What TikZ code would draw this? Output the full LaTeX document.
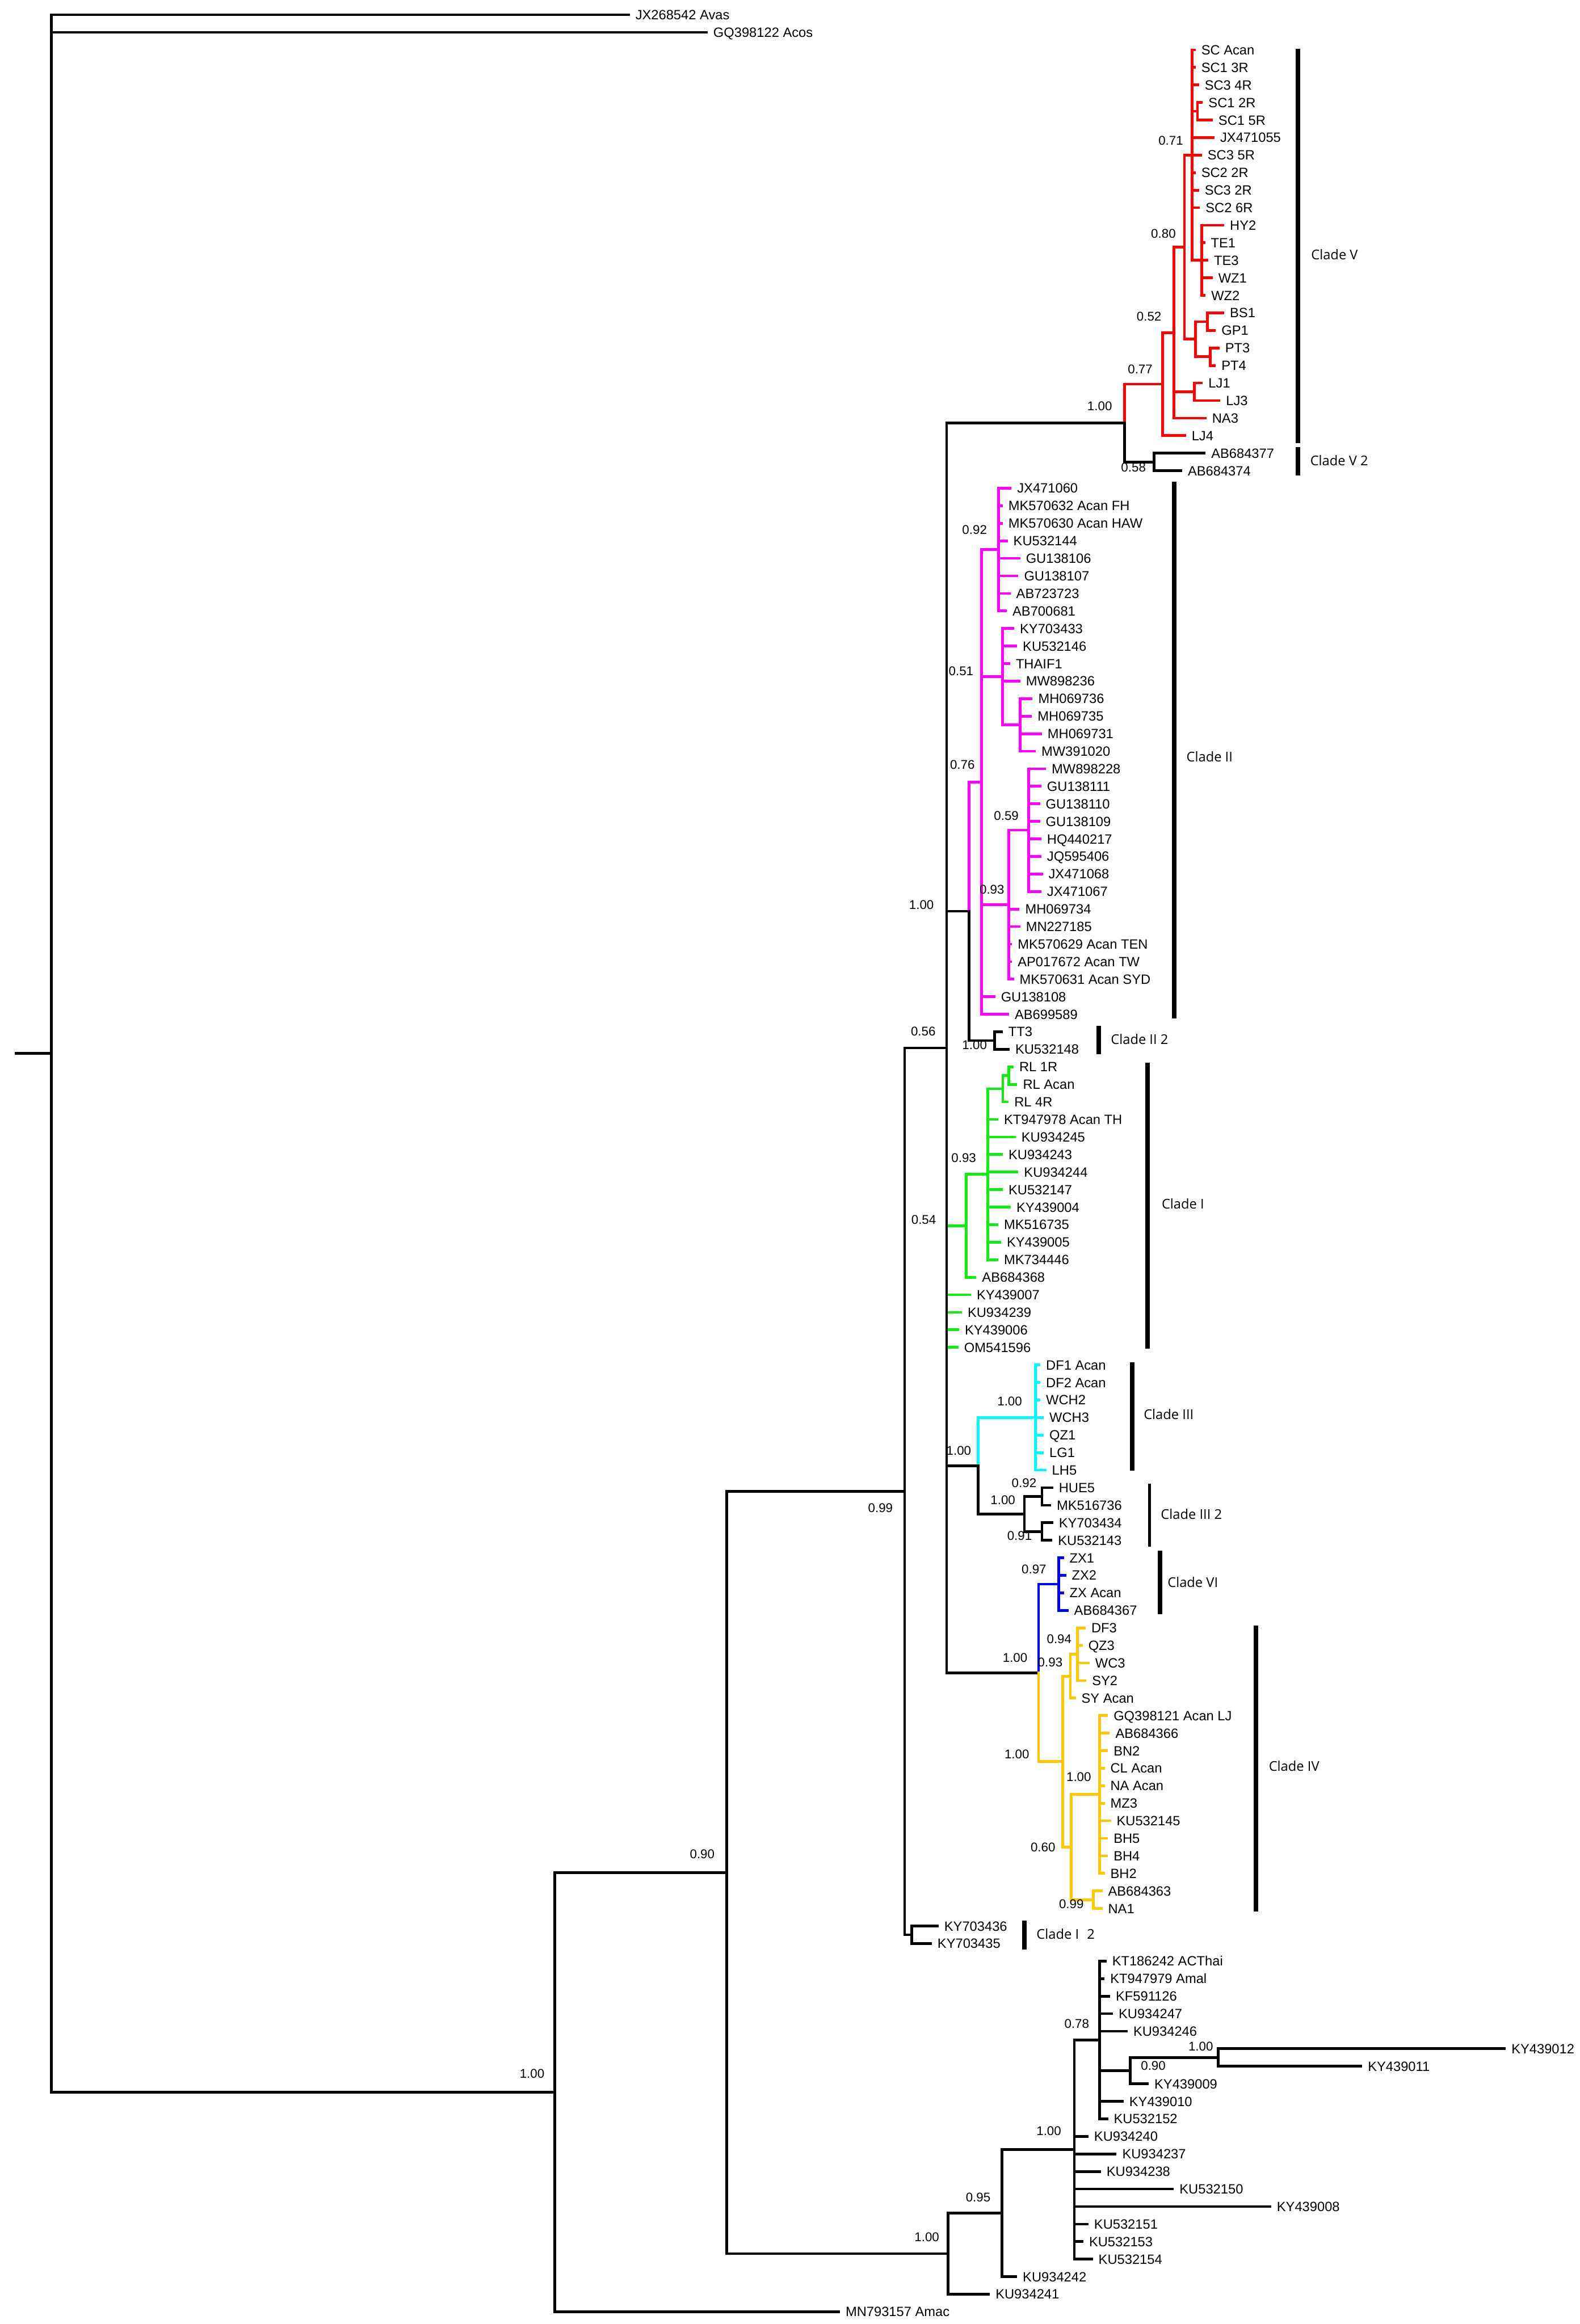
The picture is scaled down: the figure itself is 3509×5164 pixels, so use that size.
\documentclass[tikz,border=0pt]{standalone}
\usepackage{fontspec}
\setmainfont{Liberation Sans}
\newfontfamily\cladefont{Open Sans}
\definecolor{cR}{RGB}{255,0,0}
\definecolor{cM}{RGB}{255,0,255}
\definecolor{cG}{RGB}{20,235,20}
\definecolor{cC}{RGB}{0,250,250}
\definecolor{cB}{RGB}{0,0,235}
\definecolor{cY}{RGB}{255,200,0}
\newcommand{\ky}[1]{32.95+38.96*(#1)}
\newcommand{\tleaf}[4]{\coordinate (#1) at (#2,{\ky{#3}}); \node[tx] (n#1) at (#1) {#4};}
\newcommand{\inode}[3]{\coordinate (#1) at (#2,{\ky{#3}});}
\newcommand{\kids}[3]{\foreach \ch in {#3} {\draw[hl,#1] (#2 |- \ch) -- (\ch);}}
\newcommand{\vbar}[4]{\draw[vl,#1] (#2 |- #3) -- (#2 |- #4);}
\tikzset{
  hl/.style={line width=1.7pt, line cap=butt},
  vl/.style={line width=1.7pt, line cap=rect},
  tx/.style={anchor=base west, inner sep=0pt, font=\fontsize{8.5}{10}\selectfont, xshift=0.12cm, yshift=-0.107cm},
  sv/.style={anchor=base east, inner sep=0pt, font=\fontsize{8}{9.6}\selectfont, yshift=-0.1cm},
  cl/.style={anchor=base west, inner sep=0pt, font=\cladefont\fontsize{8.5}{10}\selectfont, yshift=-0.108cm},
  cbar/.style={line width=2.85pt},
  cbarthin/.style={line width=1.9pt}
}
\begin{document}
\begin{tikzpicture}[x=0.01cm, y=-0.01cm]
\useasboundingbox (0,0) rectangle (3509,5164);
% ---------- leaves ----------
\tleaf{l0}{1399}{0}{JX268542 Avas}
\tleaf{l1}{1572}{1}{GQ398122 Acos}
\tleaf{l2}{2656}{2}{SC Acan}
\tleaf{l3}{2656}{3}{SC1 3R}
\tleaf{l4}{2663.5}{4}{SC3 4R}
\tleaf{l5}{2672}{5}{SC1 2R}
\tleaf{l6}{2694}{6}{SC1 5R}
\tleaf{l7}{2698}{7}{JX471055}
\tleaf{l8}{2670}{8}{SC3 5R}
\tleaf{l9}{2656}{9}{SC2 2R}
\tleaf{l10}{2663.5}{10}{SC3 2R}
\tleaf{l11}{2665.6}{11}{SC2 6R}
\tleaf{l12}{2719.5}{12}{HY2}
\tleaf{l13}{2677.2}{13}{TE1}
\tleaf{l14}{2684.2}{14}{TE3}
\tleaf{l15}{2693.8}{15}{WZ1}
\tleaf{l16}{2678}{16}{WZ2}
\tleaf{l17}{2719.5}{17}{BS1}
\tleaf{l18}{2700.8}{18}{GP1}
\tleaf{l19}{2709}{19}{PT3}
\tleaf{l20}{2700.8}{20}{PT4}
\tleaf{l21}{2672}{21}{LJ1}
\tleaf{l22}{2711}{22}{LJ3}
\tleaf{l23}{2680}{23}{NA3}
\tleaf{l24}{2634.5}{24}{LJ4}
\tleaf{l25}{2678}{25}{AB684377}
\tleaf{l26}{2626}{26}{AB684374}
\tleaf{l27}{2247}{27}{JX471060}
\tleaf{l28}{2227.5}{28}{MK570632 Acan FH}
\tleaf{l29}{2227.5}{29}{MK570630 Acan HAW}
\tleaf{l30}{2238.6}{30}{KU532144}
\tleaf{l31}{2266.4}{31}{GU138106}
\tleaf{l32}{2262.3}{32}{GU138107}
\tleaf{l33}{2244.9}{33}{AB723723}
\tleaf{l34}{2236.6}{34}{AB700681}
\tleaf{l35}{2253}{35}{KY703433}
\tleaf{l36}{2259.4}{36}{KU532146}
\tleaf{l37}{2244}{37}{THAIF1}
\tleaf{l38}{2266.4}{38}{MW898236}
\tleaf{l39}{2293.8}{39}{MH069736}
\tleaf{l40}{2292.5}{40}{MH069735}
\tleaf{l41}{2314.5}{41}{MH069731}
\tleaf{l42}{2300.8}{42}{MW391020}
\tleaf{l43}{2323.6}{43}{MW898228}
\tleaf{l44}{2313.3}{44}{GU138111}
\tleaf{l45}{2310.4}{45}{GU138110}
\tleaf{l46}{2310.4}{46}{GU138109}
\tleaf{l47}{2313.3}{47}{HQ440217}
\tleaf{l48}{2313.3}{48}{JQ595406}
\tleaf{l49}{2316.6}{49}{JX471068}
\tleaf{l50}{2313.3}{50}{JX471067}
\tleaf{l51}{2264.8}{51}{MH069734}
\tleaf{l52}{2266.4}{52}{MN227185}
\tleaf{l53}{2248.2}{53}{MK570629 Acan TEN}
\tleaf{l54}{2248.2}{54}{AP017672 Acan TW}
\tleaf{l55}{2252.3}{55}{MK570631 Acan SYD}
\tleaf{l56}{2210.9}{56}{GU138108}
\tleaf{l57}{2241.5}{57}{AB699589}
\tleaf{l58}{2227.5}{58}{TT3}
\tleaf{l59}{2242.8}{59}{KU532148}
\tleaf{l60}{2251.6}{60}{RL 1R}
\tleaf{l61}{2259.8}{61}{RL Acan}
\tleaf{l62}{2240.6}{62}{RL 4R}
\tleaf{l63}{2217.7}{63}{KT947978 Acan TH}
\tleaf{l64}{2256.4}{64}{KU934245}
\tleaf{l65}{2227.7}{65}{KU934243}
\tleaf{l66}{2262.2}{66}{KU934244}
\tleaf{l67}{2227.7}{67}{KU532147}
\tleaf{l68}{2245.4}{68}{KY439004}
\tleaf{l69}{2217.7}{69}{MK516735}
\tleaf{l70}{2223.9}{70}{KY439005}
\tleaf{l71}{2217.7}{71}{MK734446}
\tleaf{l72}{2168.9}{72}{AB684368}
\tleaf{l73}{2157}{73}{KY439007}
\tleaf{l74}{2136.9}{74}{KU934239}
\tleaf{l75}{2130.6}{75}{KY439006}
\tleaf{l76}{2129.2}{76}{OM541596}
\tleaf{l77}{2311}{77}{DF1 Acan}
\tleaf{l78}{2311}{78}{DF2 Acan}
\tleaf{l79}{2311}{79}{WCH2}
\tleaf{l80}{2318.6}{80}{WCH3}
\tleaf{l81}{2318.6}{81}{QZ1}
\tleaf{l82}{2318.6}{82}{LG1}
\tleaf{l83}{2324.3}{83}{LH5}
\tleaf{l84}{2339.6}{84}{HUE5}
\tleaf{l85}{2334.9}{85}{MK516736}
\tleaf{l86}{2339.6}{86}{KY703434}
\tleaf{l87}{2337.7}{87}{KU532143}
\tleaf{l88}{2363.3}{88}{ZX1}
\tleaf{l89}{2368.4}{89}{ZX2}
\tleaf{l90}{2363.3}{90}{ZX Acan}
\tleaf{l91}{2373.5}{91}{AB684367}
\tleaf{l92}{2411.7}{92}{DF3}
\tleaf{l93}{2405.1}{93}{QZ3}
\tleaf{l94}{2420.4}{94}{WC3}
\tleaf{l95}{2413.3}{95}{SY2}
\tleaf{l96}{2389.8}{96}{SY Acan}
\tleaf{l97}{2461.2}{97}{GQ398121 Acan LJ}
\tleaf{l98}{2465.3}{98}{AB684366}
\tleaf{l99}{2461.2}{99}{BN2}
\tleaf{l100}{2454}{100}{CL Acan}
\tleaf{l101}{2454}{101}{NA Acan}
\tleaf{l102}{2454}{102}{MZ3}
\tleaf{l103}{2467.9}{103}{KU532145}
\tleaf{l104}{2461.2}{104}{BH5}
\tleaf{l105}{2461.2}{105}{BH4}
\tleaf{l106}{2454}{106}{BH2}
\tleaf{l107}{2449}{107}{AB684363}
\tleaf{l108}{2449}{108}{NA1}
\tleaf{l109}{2085}{109}{KY703436}
\tleaf{l110}{2070}{110}{KY703435}
\tleaf{l111}{2458}{111}{KT186242 ACThai}
\tleaf{l112}{2453.6}{112}{KT947979 Amal}
\tleaf{l113}{2466}{113}{KF591126}
\tleaf{l114}{2472.3}{114}{KU934247}
\tleaf{l115}{2505}{115}{KU934246}
\tleaf{l116}{3345}{116}{KY439012}
\tleaf{l117}{3026}{117}{KY439011}
\tleaf{l118}{2551.8}{118}{KY439009}
\tleaf{l119}{2496}{119}{KY439010}
\tleaf{l120}{2461.6}{120}{KU532152}
\tleaf{l121}{2417.9}{121}{KU934240}
\tleaf{l122}{2480.4}{122}{KU934237}
\tleaf{l123}{2445.5}{123}{KU934238}
\tleaf{l124}{2607.6}{124}{KU532150}
\tleaf{l125}{2823.8}{125}{KY439008}
\tleaf{l126}{2417.9}{126}{KU532151}
\tleaf{l127}{2406.7}{127}{KU532153}
\tleaf{l128}{2427.7}{128}{KU532154}
\tleaf{l129}{2259.4}{129}{KU934242}
\tleaf{l130}{2199}{130}{KU934241}
\tleaf{l131}{1865.8}{131}{MN793157 Amac}
% ---------- internal nodes ----------
\inode{root}{114}{59.2355}
\coordinate (rootL) at (33,{\ky{59.2355}});
\inode{T}{1232.8}{118.47}
\inode{O}{1614}{105.95}
\inode{N}{2009.7}{84.21}
\inode{I2}{2025}{109.5}
\inode{M}{2103}{58.92}
\inode{W}{2497.7}{23.28}
\inode{Z}{2582.7}{21.0625}
\inode{Y}{2607.5}{18.125}
\inode{X}{2631}{13.25}
\inode{A1}{2648}{8}
\inode{SC1}{2660}{5.5}
\inode{HY}{2669.7}{14}
\inode{BP}{2656}{18.5}
\inode{BS}{2682}{17.5}
\inode{PT}{2688.4}{19.5}
\inode{LJ}{2653}{21.5}
\inode{V2}{2564}{25.5}
\inode{Q}{2152.8}{51.125}
\inode{P}{2180}{43.75}
\inode{A}{2218.7}{30.5}
\inode{B}{2227.5}{37.75}
\inode{MH}{2266.5}{40.5}
\inode{C}{2240.7}{50.75}
\inode{C1}{2285.5}{46.5}
\inode{II2}{2209.6}{58.5}
\inode{I0}{2146.4}{69.0625}
\inode{Iin}{2194.3}{66.125}
\inode{RL}{2227.7}{61.25}
\inode{RLa}{2240.6}{60.5}
\inode{R}{2172.7}{82.75}
\inode{III}{2300.4}{80}
\inode{IIIb}{2275.6}{85.5}
\inode{H1}{2314.8}{84.5}
\inode{H2}{2314.8}{86.5}
\inode{S}{2307}{94.5625}
\inode{VI}{2352}{89.5}
\inode{IV}{2360.7}{99.625}
\inode{IVa}{2377.6}{94.75}
\inode{DFg}{2393.9}{93.5}
\inode{IVb}{2379.6}{104.5}
\inode{GQg}{2442.3}{101.5}
\inode{ABNA}{2428.6}{107.5}
\inode{U}{2105.8}{127.6875}
\inode{V}{2225.5}{125.375}
\inode{X1}{2386.6}{121.75}
\inode{X2}{2442.4}{115.5}
\inode{X3}{2510.7}{117.25}
\inode{X4}{2705.8}{116.5}
% ---------- horizontal branches ----------
\draw[hl] (rootL) -- (root);
\kids{black}{root}{l0,l1,T}
\kids{black}{T}{O,l131}
\kids{black}{O}{N,U}
\kids{black}{N}{M,I2}
\kids{black}{I2}{l109,l110}
\kids{black}{M}{W,Q,R,S}
\kids{cG}{M}{I0,l73,l74,l75,l76}
% clade V
\kids{cR}{W}{Z}
\kids{black}{W}{V2}
\kids{black}{V2}{l25,l26}
\kids{cR}{Z}{Y,l24}
\kids{cR}{Y}{X,LJ,l23}
\kids{cR}{X}{A1,BP}
\kids{cR}{A1}{l2,l3,l4,SC1,l7,l8,l9,l10,l11,HY}
\kids{cR}{SC1}{l5,l6}
\kids{cR}{HY}{l12,l13,l14,l15,l16}
\kids{cR}{BP}{BS,PT}
\kids{cR}{BS}{l17,l18}
\kids{cR}{PT}{l19,l20}
\kids{cR}{LJ}{l21,l22}
% clade II
\kids{cM}{Q}{P}
\kids{black}{Q}{II2}
\kids{black}{II2}{l58,l59}
\kids{cM}{P}{A,B,C,l56,l57}
\kids{cM}{A}{l27,l28,l29,l30,l31,l32,l33,l34}
\kids{cM}{B}{l35,l36,l37,l38,MH}
\kids{cM}{MH}{l39,l40,l41,l42}
\kids{cM}{C}{C1,l51,l52,l53,l54,l55}
\kids{cM}{C1}{l43,l44,l45,l46,l47,l48,l49,l50}
% clade I
\kids{cG}{I0}{Iin,l72}
\kids{cG}{Iin}{RL,l63,l64,l65,l66,l67,l68,l69,l70,l71}
\kids{cG}{RL}{RLa,l62}
\kids{cG}{RLa}{l60,l61}
% clade III
\kids{cC}{R}{III}
\kids{black}{R}{IIIb}
\kids{cC}{III}{l77,l78,l79,l80,l81,l82,l83}
\kids{black}{IIIb}{H1,H2}
\kids{black}{H1}{l84,l85}
\kids{black}{H2}{l86,l87}
% clades VI and IV
\kids{cB}{S}{VI}
\kids{cY}{S}{IV}
\kids{cB}{VI}{l88,l89,l90,l91}
\kids{cY}{IV}{IVa,IVb}
\kids{cY}{IVa}{DFg,l96}
\kids{cY}{DFg}{l92,l93,l94,l95}
\kids{cY}{IVb}{GQg,ABNA}
\kids{cY}{GQg}{l97,l98,l99,l100,l101,l102,l103,l104,l105,l106}
\kids{cY}{ABNA}{l107,l108}
% outgroup clade
\kids{black}{U}{V,l130}
\kids{black}{V}{X1,l129}
\kids{black}{X1}{X2,l121,l122,l123,l124,l125,l126,l127,l128}
\kids{black}{X2}{l111,l112,l113,l114,l115,X3,l119,l120}
\kids{black}{X3}{X4,l118}
\kids{black}{X4}{l116,l117}
% ---------- vertical branches ----------
\vbar{black}{root}{l0}{T}
\vbar{black}{T}{O}{l131}
\vbar{black}{O}{N}{U}
\vbar{black}{N}{M}{I2}
\vbar{black}{I2}{l109}{l110}
\vbar{black}{M}{W}{S}
\vbar{cR}{W}{Z}{W}
\vbar{black}{W}{W}{V2}
\vbar{black}{V2}{l25}{l26}
\vbar{cR}{Z}{Y}{l24}
\vbar{cR}{Y}{X}{l23}
\vbar{cR}{X}{A1}{BP}
\vbar{cR}{A1}{l2}{HY}
\vbar{cR}{SC1}{l5}{l6}
\vbar{cR}{HY}{l12}{l16}
\vbar{cR}{BP}{BS}{PT}
\vbar{cR}{BS}{l17}{l18}
\vbar{cR}{PT}{l19}{l20}
\vbar{cR}{LJ}{l21}{l22}
\vbar{cM}{Q}{P}{Q}
\vbar{black}{Q}{Q}{II2}
\vbar{black}{II2}{l58}{l59}
\vbar{cM}{P}{A}{l57}
\vbar{cM}{A}{l27}{l34}
\vbar{cM}{B}{l35}{MH}
\vbar{cM}{MH}{l39}{l42}
\vbar{cM}{C}{C1}{l55}
\vbar{cM}{C1}{l43}{l50}
\vbar{cG}{I0}{Iin}{l72}
\vbar{cG}{Iin}{RL}{l71}
\vbar{cG}{RL}{RLa}{l62}
\vbar{cG}{RLa}{l60}{l61}
\vbar{cC}{R}{III}{R}
\vbar{black}{R}{R}{IIIb}
\vbar{cC}{III}{l77}{l83}
\vbar{black}{IIIb}{H1}{H2}
\vbar{black}{H1}{l84}{l85}
\vbar{black}{H2}{l86}{l87}
\vbar{cB}{S}{VI}{S}
\vbar{cY}{S}{S}{IV}
\vbar{cB}{VI}{l88}{l91}
\vbar{cY}{IV}{IVa}{IVb}
\vbar{cY}{IVa}{DFg}{l96}
\vbar{cY}{DFg}{l92}{l95}
\vbar{cY}{IVb}{GQg}{ABNA}
\vbar{cY}{GQg}{l97}{l106}
\vbar{cY}{ABNA}{l107}{l108}
\vbar{black}{U}{V}{l130}
\vbar{black}{V}{X1}{l129}
\vbar{black}{X1}{X2}{l128}
\vbar{black}{X2}{l111}{l120}
\vbar{black}{X3}{X4}{l118}
\vbar{black}{X4}{l116}{l117}
% ---------- support values ----------
\node[sv] (s01) at (2629,312) {0.71};
\node[sv] (s02) at (2612.5,519) {0.80};
\node[sv] (s03) at (2580.6,703) {0.52};
\node[sv] (s04) at (2561,820) {0.77};
\node[sv] (s05) at (2471,902) {1.00};
\node[sv] (s06) at (2546,1038) {0.58};
\node[sv] (s07) at (2193,1177) {0.92};
\node[sv] (s08) at (2163,1491) {0.51};
\node[sv] (s09) at (2166,1699) {0.76};
\node[sv] (s10) at (2263.5,1813) {0.59};
\node[sv] (s11) at (2231.6,1976) {0.93};
\node[sv] (s12) at (2075,2010) {1.00};
\node[sv] (s13) at (2079,2292) {0.56};
\node[sv] (s14) at (2193,2322) {1.00};
\node[sv] (s15) at (2169,2573) {0.93};
\node[sv] (s16) at (2080,2710) {0.54};
\node[sv] (s17) at (2271,3113) {1.00};
\node[sv] (s18) at (2158,3223) {1.00};
\node[sv] (s19) at (2303,3295) {0.92};
\node[sv] (s20) at (2256,3333) {1.00};
\node[sv] (s21) at (2293,3412) {0.91};
\node[sv] (s22) at (2325,3487) {0.97};
\node[sv] (s23) at (2283,3683) {1.00};
\node[sv] (s24) at (2361,3694) {0.93};
\node[sv] (s25) at (2381,3642) {0.94};
\node[sv] (s26) at (2287,3898) {1.00};
\node[sv] (s27) at (2424.5,3948) {1.00};
\node[sv] (s28) at (2345,4104) {0.60};
\node[sv] (s29) at (2408,4230) {0.99};
\node[sv] (s30) at (1984,3351) {0.99};
\node[sv] (s31) at (1588,4119) {0.90};
\node[sv] (s32) at (1210,4607) {1.00};
\node[sv] (s33) at (2087,4970) {1.00};
\node[sv] (s34) at (2201,4882) {0.95};
\node[sv] (s35) at (2358,4735) {1.00};
\node[sv] (s36) at (2420,4497) {0.78};
\node[sv] (s37) at (2590,4590) {0.90};
\node[sv] (s38) at (2695.5,4547) {1.00};
% ---------- clade bars and labels ----------
\draw[cbar] (2883,109) -- (2883,985);
\node[cl] (cV) at (2912,566) {Clade V};
\draw[cbar] (2883,993) -- (2883,1057);
\node[cl] (cV2) at (2910,1023) {Clade V 2};
\draw[cbar] (2609,1070) -- (2609,2263);
\node[cl] (cII) at (2635,1682) {Clade II};
\draw[cbar] (2441,2280) -- (2441,2343);
\node[cl] (cII2) at (2467,2310) {Clade II 2};
\draw[cbar] (2549,2361) -- (2549,2997);
\node[cl] (cI) at (2580,2675) {Clade I};
\draw[cbar] (2515,3027) -- (2515,3268);
\node[cl] (cIII) at (2540,3143) {Clade III};
\draw[cbarthin] (2554,3297) -- (2554,3437);
\node[cl] (cIII2) at (2578,3365) {Clade III 2};
\draw[cbar] (2576.5,3446) -- (2576.5,3587);
\node[cl] (cVI) at (2593,3516) {Clade VI};
\draw[cbar] (2790,3612) -- (2790,4248);
\node[cl] (cIV) at (2818,3924) {Clade IV};
\draw[cbar] (2275.5,4268) -- (2275.5,4332);
\node[cl] (cI2) at (2302,4298) {Clade I\hspace{0.6em}2};
\end{tikzpicture}
\end{document}
